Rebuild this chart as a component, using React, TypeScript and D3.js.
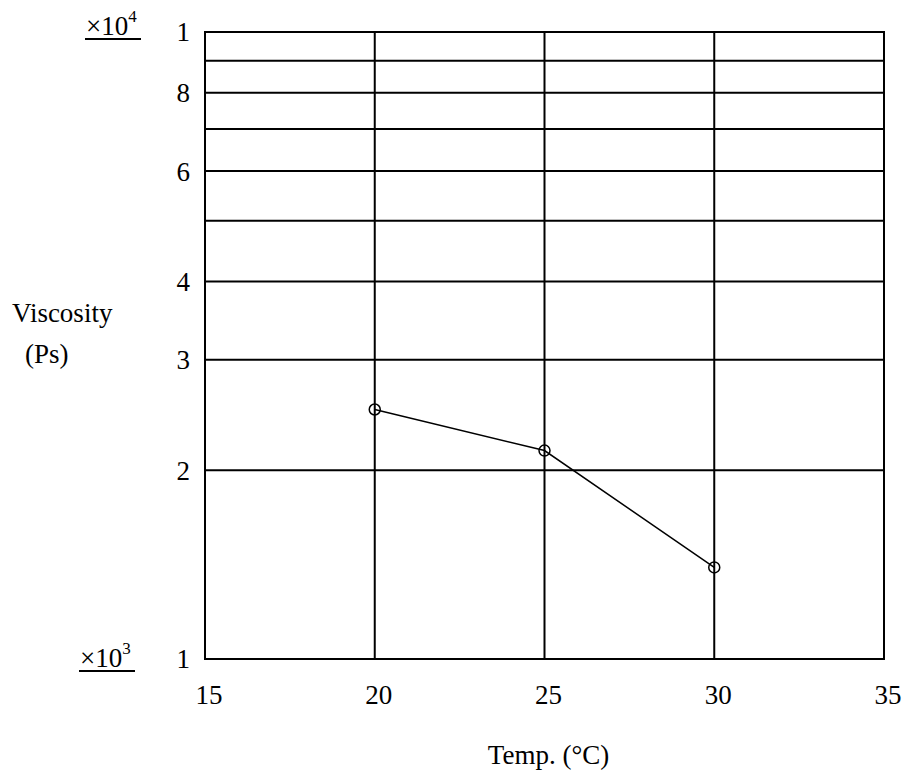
import React, { useRef, useEffect } from 'react';
import * as d3 from 'd3';

// temperature (°C) and viscosity (Ps)
const temps = [20, 25, 30];
const viscosity = [2500, 2150, 1400];

const xTicks = [15, 20, 25, 30, 35];
const yGrid = [1000, 2000, 3000, 4000, 5000, 6000, 7000, 8000, 9000, 10000];
const yLabelValues = [1000, 2000, 3000, 4000, 6000, 8000, 10000];
const yLabelTexts = ['1', '2', '3', '4', '6', '8', '1'];

const FONT = "'Liberation Serif', 'Times New Roman', Times, 'DejaVu Serif', serif";

const App = () => {
  const svgRef = useRef<SVGSVGElement | null>(null);

  useEffect(() => {
    document.body.style.margin = '0';
    const svg = d3.select(svgRef.current);
    svg.selectAll('*').remove();

    const width = 904;
    const height = 773;
    const margin = { top: 32, right: 20, bottom: 114, left: 205 };

    const x = d3.scaleLinear().domain([15, 35]).range([margin.left, width - margin.right]);
    const y = d3.scaleLog().domain([1000, 10000]).range([height - margin.bottom, margin.top]);

    const g = svg.append('g').style('font-family', FONT);

    // horizontal grid
    g.selectAll('line.hgrid')
      .data(yGrid)
      .enter().append('line')
      .attr('x1', x(15)).attr('x2', x(35))
      .attr('y1', d => y(d)).attr('y2', d => y(d))
      .attr('stroke', '#000').attr('stroke-width', 2);

    // vertical grid
    g.selectAll('line.vgrid')
      .data(xTicks)
      .enter().append('line')
      .attr('x1', d => x(d)).attr('x2', d => x(d))
      .attr('y1', y(1000)).attr('y2', y(10000))
      .attr('stroke', '#000').attr('stroke-width', 2);

    // frame
    g.append('rect')
      .attr('x', x(15)).attr('y', y(10000))
      .attr('width', x(35) - x(15)).attr('height', y(1000) - y(10000))
      .attr('fill', 'none').attr('stroke', '#000').attr('stroke-width', 2);

    // y tick labels
    g.selectAll('text.ylab')
      .data(yLabelValues)
      .enter().append('text')
      .attr('x', x(15) - 15)
      .attr('y', d => y(d))
      .attr('dy', '0.35em')
      .attr('text-anchor', 'end')
      .attr('font-size', 27)
      .text((d, i) => yLabelTexts[i]);

    // x tick labels
    g.selectAll('text.xlab')
      .data(xTicks)
      .enter().append('text')
      .attr('x', d => x(d) + 4)
      .attr('y', y(1000) + 45)
      .attr('text-anchor', 'middle')
      .attr('font-size', 27)
      .text(d => d);

    // multiplier labels
    const mult = (px: number, py: number, exp: string) => {
      const t = g.append('text')
        .attr('x', px).attr('y', py)
        .attr('font-size', 27);
      t.append('tspan').text('\u00d710');
      t.append('tspan').attr('font-size', 17).attr('dy', -13).text(exp);
      g.append('line')
        .attr('x1', px - 1).attr('x2', px + 55)
        .attr('y1', py + 4).attr('y2', py + 4)
        .attr('stroke', '#000').attr('stroke-width', 2);
    };
    mult(86, 35, '4');
    mult(80, 667, '3');

    // axis titles
    g.append('text')
      .attr('x', 12).attr('y', 322)
      .attr('font-size', 27)
      .text('Viscosity');
    g.append('text')
      .attr('x', 25).attr('y', 363)
      .attr('font-size', 27)
      .text('(Ps)');
    g.append('text')
      .attr('x', (x(15) + x(35)) / 2 + 4).attr('y', 764)
      .attr('text-anchor', 'middle')
      .attr('font-size', 27)
      .text('Temp. (\u00b0C)');

    // data line
    const pts = temps.map((t, i) => [t, viscosity[i]] as [number, number]);
    const line = d3.line<[number, number]>()
      .x(d => x(d[0]))
      .y(d => y(d[1]));
    g.append('path')
      .attr('d', line(pts))
      .attr('fill', 'none')
      .attr('stroke', '#000')
      .attr('stroke-width', 1.5);

    g.selectAll('circle')
      .data(pts)
      .enter().append('circle')
      .attr('cx', d => x(d[0]))
      .attr('cy', d => y(d[1]))
      .attr('r', 5.5)
      .attr('fill', 'none')
      .attr('stroke', '#000')
      .attr('stroke-width', 1.5);
  }, []);

  return <svg ref={svgRef} width={904} height={773} style={{ display: 'block' }}></svg>;
};

export default App;
